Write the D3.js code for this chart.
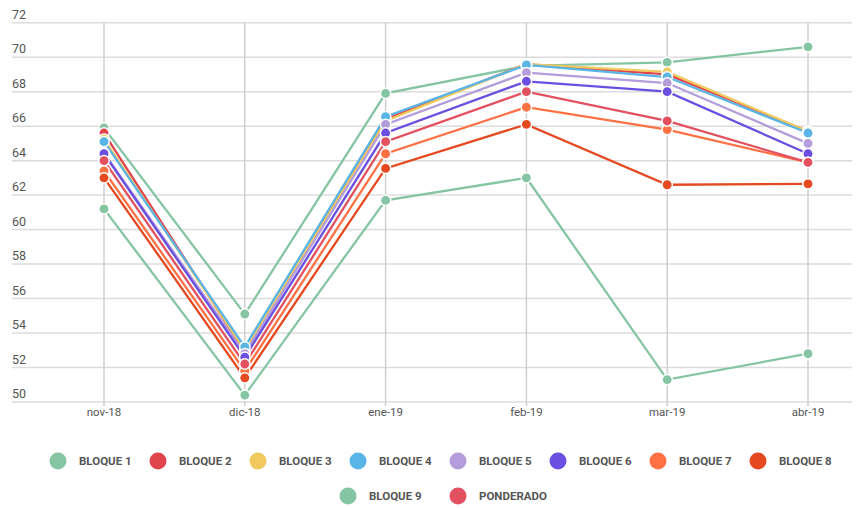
<!DOCTYPE html>
<html><head><meta charset="utf-8">
<script src="https://cdn.jsdelivr.net/npm/d3@7"></script>
<style>
body{margin:0;background:#fff;}
svg{display:block;font-family:Roboto,"Open Sans",sans-serif;}
</style></head>
<body><svg id="c" width="862" height="508"></svg>
<script>
const categories = ["nov-18","dic-18","ene-19","feb-19","mar-19","abr-19"];
const yTicks = [50,52,54,56,58,60,62,64,66,68,70,72];
const seriesNames = ["BLOQUE 1","BLOQUE 2","BLOQUE 3","BLOQUE 4","BLOQUE 5","BLOQUE 6","BLOQUE 7","BLOQUE 8","BLOQUE 9","PONDERADO"];
const seriesColors = ["#86c5a3","#e0454d","#f2c95e","#5ab4e5","#b39ddb","#6b4fe0","#ff7043","#e4491f","#86c5a3","#e35060"];
const bloque1 = [65.9,55.1,67.9,69.5,69.7,70.6];
const bloque2 = [65.6,52.9,66.4,69.6,69.0,65.7];
const bloque3 = [65.25,53.0,66.3,69.6,69.15,65.7];
const bloque4 = [65.1,53.2,66.55,69.55,68.85,65.6];
const bloque5 = [64.45,52.8,66.1,69.1,68.5,65.0];
const bloque6 = [64.4,52.6,65.6,68.6,68.0,64.4];
const bloque7 = [63.4,51.8,64.4,67.1,65.8,63.9];
const bloque8 = [63.0,51.4,63.55,66.1,62.6,62.65];
const bloque9 = [61.2,50.4,61.7,63.0,51.3,52.8];
const ponderado = [64.0,52.2,65.1,68.0,66.3,63.9];
const seriesValues = [bloque1,bloque2,bloque3,bloque4,bloque5,bloque6,bloque7,bloque8,bloque9,ponderado];

const svg = d3.select("#c");
const x = d3.scalePoint().domain(categories).range([104,808]);
const y = d3.scaleLinear().domain([50,72]).range([402,22.7]);

const g = svg.append("g");
g.selectAll("line.h").data(yTicks).join("line")
  .attr("x1",12).attr("x2",852)
  .attr("y1",d=>y(d)).attr("y2",d=>y(d))
  .attr("stroke","#dcdcdc").attr("stroke-width",1.5);
g.selectAll("text.yl").data(yTicks).join("text")
  .attr("x",12).attr("y",d=>y(d)-4)
  .attr("font-size",12.5).attr("fill","#555")
  .text(d=>d);
g.selectAll("line.v").data(categories).join("line")
  .attr("x1",d=>x(d)).attr("x2",d=>x(d))
  .attr("y1",y(72)).attr("y2",y(50)+4)
  .attr("stroke","#cfcfcf").attr("stroke-width",1.5);
g.selectAll("text.xl").data(categories).join("text")
  .attr("x",d=>x(d)).attr("y",416)
  .attr("text-anchor","middle").attr("font-size",11.5).attr("fill","#555")
  .text(d=>d);

const line = d3.line().x((d,i)=>x(categories[i])).y(d=>y(d));
const order = [8,0,1,2,3,4,5,6,9,7];
order.forEach(si=>{
  svg.append("path").datum(seriesValues[si])
    .attr("d",line).attr("fill","none")
    .attr("stroke",seriesColors[si]).attr("stroke-width",2.3);
});
order.forEach(si=>{
  svg.append("g").selectAll("circle").data(seriesValues[si]).join("circle")
    .attr("cx",(d,i)=>x(categories[i])).attr("cy",d=>y(d)).attr("r",5.2)
    .attr("fill",seriesColors[si]).attr("stroke","#fff").attr("stroke-width",1.5);
});

// legend
const rows = [[0,1,2,3,4,5,6,7],[8,9]];
const rowY = [461,496];
const rowStart = [58,348];
const rowStep = [100,110];
rows.forEach((row,ri)=>{
  row.forEach((si,k)=>{
    const cx = rowStart[ri] + k*rowStep[ri];
    svg.append("circle").attr("cx",cx).attr("cy",rowY[ri]).attr("r",8.5).attr("fill",seriesColors[si]);
    svg.append("text").attr("x",cx+21).attr("y",rowY[ri]+4).attr("font-size",11.5)
      .attr("font-weight","bold").attr("fill","#555").text(seriesNames[si]);
  });
});
</script></body></html>
